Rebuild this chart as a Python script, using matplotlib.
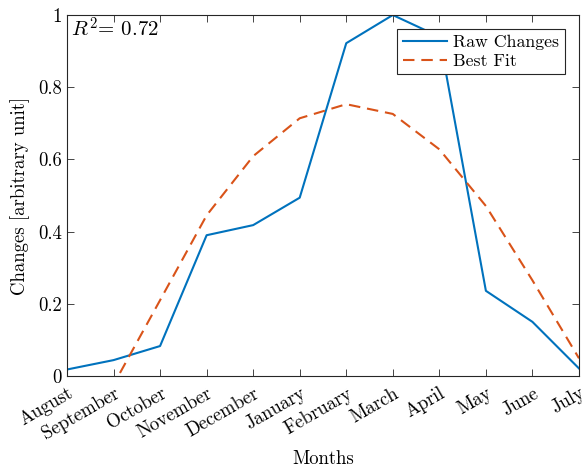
import numpy as np
import matplotlib
matplotlib.use("Agg")
import matplotlib.pyplot as plt
from matplotlib.ticker import FormatStrFormatter

plt.rcParams['font.family'] = 'serif'
plt.rcParams['font.serif'] = ['cmr10']
plt.rcParams['mathtext.fontset'] = 'cm'
plt.rcParams['axes.formatter.use_mathtext'] = True

months = ['August', 'September', 'October', 'November', 'December', 'January',
          'February', 'March', 'April', 'May', 'June', 'July']
raw_changes = [0.018, 0.044, 0.083, 0.390, 0.418, 0.494, 0.922, 1.0, 0.94, 0.236, 0.150, 0.021]
best_fit = [-0.28, -0.024, 0.21, 0.445, 0.609, 0.714, 0.753, 0.726, 0.628, 0.471, 0.265, 0.049]
r_squared = 0.72

blue = '#0072BD'
orange = '#D95319'
edge = '#262626'

fig = plt.figure(figsize=(5.84, 4.7), dpi=100)
ax = fig.add_axes([0.1147, 0.2, 0.8767, 0.768])

x = np.arange(len(months))
ax.plot(x, raw_changes, color=blue, lw=1.5, label='Raw Changes')
ax.plot(x, best_fit, color=orange, lw=1.5, dashes=(5.5, 3.3), label='Best Fit')

ax.set_xlim(0, len(months) - 1)
ax.set_ylim(0, 1)
ax.set_xticks(x)
ax.set_xticklabels(months, rotation=30, ha='right', rotation_mode='anchor', fontsize=13.5)
ax.set_yticks(np.arange(0, 1.01, 0.2))
ax.yaxis.set_major_formatter(FormatStrFormatter('%g'))
ax.tick_params(axis='y', labelsize=13.5)
ax.tick_params(direction='in', length=5, width=0.6, color=edge, top=True, right=True)
ax.tick_params(axis='x', pad=6)

for s in ax.spines.values():
    s.set_linewidth(0.8)
    s.set_color(edge)

ax.set_xlabel('Months', fontsize=13.5, labelpad=5)
ax.set_ylabel('Changes [arbitrary unit]', fontsize=13.5, labelpad=6)

ax.text(0.008, 0.995, r'$R^2$= %.2f' % r_squared, transform=ax.transAxes,
        ha='left', va='top', fontsize=15)

leg = ax.legend(loc='upper right', fontsize=12.8, fancybox=False, framealpha=1,
                edgecolor=edge, handlelength=2.5, borderaxespad=0.8,
                borderpad=0.3, labelspacing=0.2, handletextpad=0.35)
leg.get_frame().set_linewidth(0.8)

fig.savefig('out.png', dpi=100)
